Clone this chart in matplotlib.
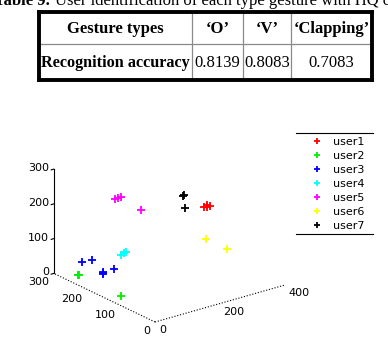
import matplotlib
matplotlib.use("Agg")
import matplotlib.pyplot as plt
from matplotlib.lines import Line2D
from mpl_toolkits.mplot3d import proj3d
import numpy as np

W, H, DPI = 388, 342, 100

# ---------------- data ----------------
caption_bold = "Table 9."
caption_text = "User identification of each type gesture with HQ co"
table_header = ["Gesture types", "\u2018O\u2019", "\u2018V\u2019", "\u2018Clapping\u2019"]
row_label = "Recognition accuracy"
accuracy = ["0.8139", "0.8083", "0.7083"]

users = ["user1", "user2", "user3", "user4", "user5", "user6", "user7"]
colors = ["#ff0000", "#00ee00", "#0000ff", "#00ffff", "#ff00ff", "#ffff00", "#000000"]

user1_x = [300, 305, 296, 302]
user1_y = [134, 130, 138, 135]
user1_z = [190, 192, 188, 195]

user2_x = [38, 40, 39]
user2_y = [266, 265, 137]
user2_z = [0, 2, 0]

user3_x = [72, 89, 97, 95, 99, 120]
user3_y = [284, 271, 246, 244, 248, 236]
user3_z = [20, 30, 0, 0, 3, 10]

user4_x = [136, 146, 155]
user4_y = [232, 233, 234]
user4_z = [50, 50, 50]

user5_x = [140, 148, 155, 174]
user5_y = [252, 250, 249, 207]
user5_z = [200, 201, 202, 180]

user6_x = [296, 326]
user6_y = [133, 97]
user6_z = [100, 80]

user7_x = [255, 258, 239]
user7_y = [162, 160, 140]
user7_z = [220, 222, 200]

xs_all = [user1_x, user2_x, user3_x, user4_x, user5_x, user6_x, user7_x]
ys_all = [user1_y, user2_y, user3_y, user4_y, user5_y, user6_y, user7_y]
zs_all = [user1_z, user2_z, user3_z, user4_z, user5_z, user6_z, user7_z]

x_ticks = [0, 200, 400]
y_ticks = [0, 100, 200, 300]
z_ticks = [0, 100, 200, 300]

# ---------------- figure ----------------
fig = plt.figure(figsize=(W / DPI, H / DPI), dpi=DPI)
fig.patch.set_facecolor("white")


def fx(x):
    return x / W


def fy(y):
    return 1 - y / H


serif = "Liberation Serif"
sans = "DejaVu Sans"

# caption (cut at top, as in the reference)
fig.text(fx(50), fy(5), caption_bold, family=serif, weight="bold", fontsize=12,
         ha="right", va="baseline")
fig.text(fx(55), fy(5), caption_text, family=serif, fontsize=12,
         ha="left", va="baseline")

# table grid
xl, xr, yt, yb = 38.5, 372, 11.5, 79.5
cols = [38.5, 192, 243, 291, 372]
ymid = 43.5
for xv in cols[1:-1]:
    fig.add_artist(Line2D([fx(xv)] * 2, [fy(yt), fy(yb)], color="#8a8a8a", lw=0.9))
fig.add_artist(Line2D([fx(xl), fx(xr)], [fy(ymid)] * 2, color="#8a8a8a", lw=0.9))
for seg in [([xl, xr], [yt, yt]), ([xl, xr], [yb, yb]), ([xl, xl], [yt, yb]), ([xr, xr], [yt, yb])]:
    fig.add_artist(Line2D([fx(v) for v in seg[0]], [fy(v) for v in seg[1]],
                          color="black", lw=2.8, solid_capstyle="projecting"))

centers = [(cols[i] + cols[i + 1]) / 2 for i in range(4)]
for i, t in enumerate(table_header):
    fig.text(fx(centers[i]), fy(33), t, family=serif, weight="bold", fontsize=12,
             ha="center", va="baseline")
fig.text(fx(centers[0]), fy(67), row_label, family=serif, weight="bold", fontsize=11.7,
         ha="center", va="baseline")
for i, t in enumerate(accuracy):
    fig.text(fx(centers[i + 1]), fy(67), t, family=serif, fontsize=12,
             ha="center", va="baseline")

# ---------------- 3D scatter ----------------
side = 300
ax = fig.add_axes([0.0, 0.0, side / W, side / H], projection="3d", proj_type="ortho")
ax.set_xlim(0, 400)
ax.set_ylim(0, 300)
ax.set_zlim(0, 300)
ax.set_box_aspect((164, 167, 113))
ax.view_init(elev=21.7, azim=-127.6)
ax.set_axis_off()

handles = []
for xs, ys, zs, c, lab in zip(xs_all, ys_all, zs_all, colors, users):
    h, = ax.plot(xs, ys, zs, linestyle="none", marker="+", markersize=5.5,
                 markeredgewidth=1.3, color=c, label=lab)
    handles.append(h)

# axis lines
dot = (0, (1, 1.6))
ax.plot([0, 400], [0, 0], [0, 0], color="black", lw=0.8, ls=dot)
ax.plot([0, 0], [0, 300], [0, 0], color="black", lw=0.8, ls=dot)
ax.plot([0, 0], [300, 300], [0, 300], color="black", lw=0.8)
for v in z_ticks:
    ax.plot([0, -8], [300, 300], [v, v], color="black", lw=0.8)

# fit the projected axes box to the reference layout
fig.canvas.draw()


def to_px(x, y, z):
    a, b, _ = proj3d.proj_transform(np.array([x], float), np.array([y], float),
                                    np.array([z], float), ax.get_proj())
    return ax.transData.transform(np.column_stack([a, b]))[0]


for _ in range(2):
    p0 = to_px(0, 0, 0)
    p1 = to_px(0, 300, 300)
    t0 = np.array([155.0, H - 322.0])
    t1 = np.array([54.0, H - 169.0])
    s = np.linalg.norm(t1 - t0) / np.linalg.norm(p1 - p0)
    bb = ax.get_position(original=False)
    left, bottom = bb.x0 * W, bb.y0 * H
    w, h = bb.width * W, bb.height * H
    nl = t0[0] - s * (p0[0] - left)
    nb = t0[1] - s * (p0[1] - bottom)
    ax.set_position([nl / W, nb / H, s * w / W, s * h / H])
    fig.canvas.draw()

# tick labels, placed next to the projected tick positions
tick_font = dict(family=sans, fontsize=8)
for v in z_ticks:
    px, py = to_px(0, 300, v)
    fig.text((px - 5) / W, (py + 1) / H, str(v), ha="right", va="center", **tick_font)
for v in y_ticks:
    px, py = to_px(0, v, 0)
    fig.text((px - 5) / W, (py - 9) / H, str(v), ha="right", va="center", **tick_font)
for v in x_ticks:
    px, py = to_px(v, 0, 0)
    fig.text((px + 4) / W, (py - 8) / H, str(v), ha="left", va="center", **tick_font)

# legend
fig.legend(handles=handles, labels=users, loc="upper left",
           bbox_to_anchor=(fx(311), fy(137)), frameon=False,
           prop=dict(family=sans, size=8), handlelength=1.0, handletextpad=0.95,
           borderpad=0, borderaxespad=0, labelspacing=0.36, markerscale=0.8)
fig.add_artist(Line2D([fx(296), fx(373)], [fy(133)] * 2, color="black", lw=0.8))
fig.add_artist(Line2D([fx(296), fx(373)], [fy(234)] * 2, color="black", lw=0.8))

fig.savefig("out.png", dpi=DPI, facecolor="white")
